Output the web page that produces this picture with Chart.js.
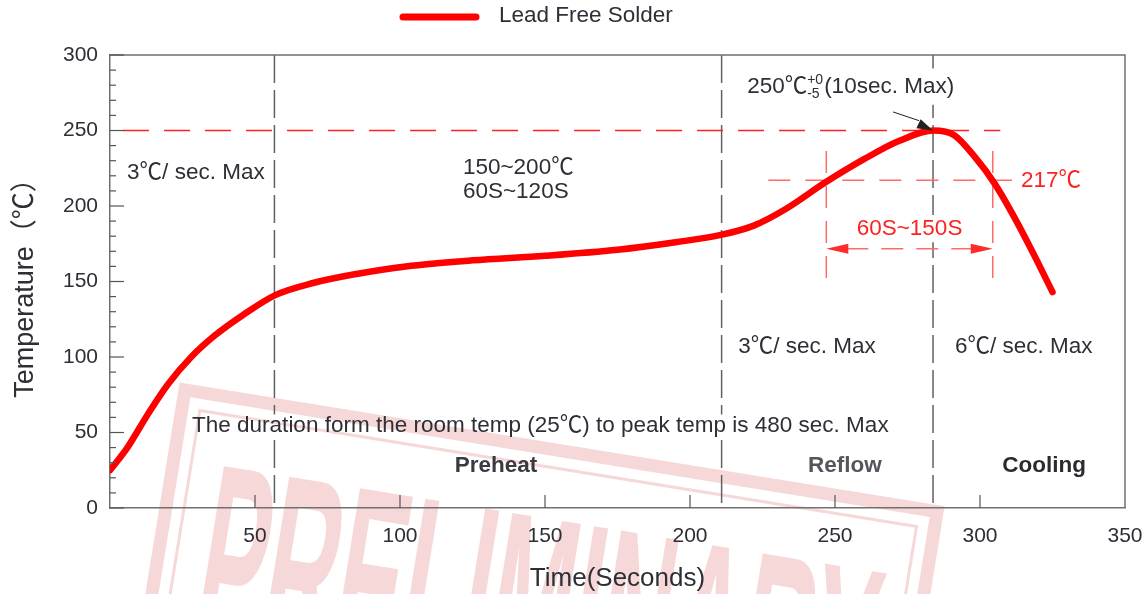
<!DOCTYPE html>
<html>
<head>
<meta charset="utf-8">
<script src="https://cdn.jsdelivr.net/npm/chart.js@4.4.1/dist/chart.umd.min.js"></script>
<style>
  html, body { margin: 0; background: #fff; }
  #wrap { width: 1144px; height: 594px; }
</style>
</head>
<body>
<div id="wrap"><canvas id="c"></canvas></div>
<script>
// ======= Dados =======
const times = [0, 6, 13, 20, 28, 36, 46, 57, 70, 85, 102, 125, 150, 175, 195, 211, 222, 233, 247, 260, 272, 284, 291, 298, 305, 312, 318, 325];
const temps = [25, 40, 62, 82, 100, 114, 128, 141, 149, 155, 160, 164, 167, 171, 176, 181, 187, 198, 216, 231, 243, 250, 247, 233, 215, 192, 170, 143];
const xTicks = [0, 50, 100, 150, 200, 250, 300, 350];
const yTicks = [0, 50, 100, 150, 200, 250, 300];
const phaseTimes = [56.7, 210.9, 283.8];   // limites preheat / reflow / cooling
const peakTemp = 250;
const liquidus = 217;
const talTimes = [247, 304.4];              // 60S~150S acima de 217

const FONT = '"Liberation Sans", Arial, "Noto Sans CJK SC", sans-serif';
const TXT = '#2e2e36';
const FS = 22.5;

// ======= Helpers =======
function label(ctx, s, x, y, size, color, opts = {}) {
  ctx.save();
  ctx.font = (opts.bold ? 'bold ' : '') + size + 'px ' + FONT;
  ctx.fillStyle = color;
  ctx.textAlign = opts.align || 'left';
  ctx.textBaseline = 'middle';
  ctx.fillText(s, x, y);
  const w = ctx.measureText(s).width;
  ctx.restore();
  return w;
}

function dashLine(ctx, x1, y1, x2, y2, color, width, dash) {
  ctx.save();
  ctx.strokeStyle = color;
  ctx.lineWidth = width;
  ctx.setLineDash(dash);
  ctx.beginPath();
  ctx.moveTo(x1, y1);
  ctx.lineTo(x2, y2);
  ctx.stroke();
  ctx.restore();
}

function arrowHead(ctx, tipX, tipY, fromX, fromY, len, half, color) {
  const a = Math.atan2(tipY - fromY, tipX - fromX);
  ctx.save();
  ctx.fillStyle = color;
  ctx.translate(tipX, tipY);
  ctx.rotate(a);
  ctx.beginPath();
  ctx.moveTo(0, 0);
  ctx.lineTo(-len, -half);
  ctx.lineTo(-len, half);
  ctx.closePath();
  ctx.fill();
  ctx.restore();
}

// carimbo "PRELIMINARY" ao fundo
function stamp(ctx) {
  ctx.save();
  ctx.translate(180, 383);
  ctx.rotate(9.2 * Math.PI / 180);
  ctx.fillStyle = 'rgba(205,40,40,0.18)';
  ctx.strokeStyle = 'rgba(205,40,40,0.18)';
  ctx.lineWidth = 13;
  ctx.strokeRect(6, 6, 762, 330);
  ctx.lineWidth = 3;
  ctx.strokeRect(24, 24, 726, 296);
  ctx.font = 'bold 260px ' + FONT;
  const w = ctx.measureText('PRELIMINARY').width;
  ctx.translate(50, 254);
  ctx.scale(680 / w, 1);
  ctx.fillText('PRELIMINARY', 0, 0);
  ctx.restore();
}

const annotations = {
  id: 'annotations',
  beforeDraw(chart) {
    const ctx = chart.ctx;
    ctx.save();
    ctx.fillStyle = '#fff';
    ctx.fillRect(0, 0, chart.width, chart.height);
    ctx.restore();
    stamp(ctx);
  },
  beforeDatasetsDraw(chart) {
    const ctx = chart.ctx;
    const { x, y } = chart.scales;
    const a = chart.chartArea;
    const px = t => x.getPixelForValue(t);
    const py = v => y.getPixelForValue(v);

    // areas dos textos que cortam as linhas tracejadas
    const boxes = [
      [px(27), py(62), px(270) - px(27), py(47) - py(62)],
      [px(218), py(291), px(292) - px(218), py(267) - py(291)],
      [px(255), py(194), px(297) - px(255), py(176) - py(194)]
    ];
    ctx.save();
    ctx.beginPath();
    ctx.rect(0, 0, chart.width, chart.height);
    boxes.forEach(b => ctx.rect(b[0], b[1], b[2], b[3]));
    ctx.clip('evenodd');

    phaseTimes.forEach(t => dashLine(ctx, px(t), a.top, px(t), a.bottom, '#606060', 1.5, [28, 7]));

    dashLine(ctx, px(4.5), py(peakTemp), px(307), py(peakTemp), '#ff2020', 1.5, [26, 15]);
    dashLine(ctx, px(227), py(liquidus), px(311), py(liquidus), '#ff6b6b', 1.5, [22, 15]);
    talTimes.forEach(t => dashLine(ctx, px(t), py(236.5), px(t), py(144.4), '#ff6b6b', 1.5, [22, 13]));
    const ay = py(171.7);
    dashLine(ctx, px(talTimes[0]) + 20, ay, px(talTimes[1]) - 20, ay, '#ff6b6b', 1.5, [22, 13]);
    ctx.restore();

    arrowHead(ctx, px(talTimes[0]), ay, px(talTimes[1]), ay, 22, 5, '#ff2a2a');
    arrowHead(ctx, px(talTimes[1]), ay, px(talTimes[0]), ay, 22, 5, '#ff2a2a');
  },
  afterDraw(chart) {
    const ctx = chart.ctx;
    const { x, y } = chart.scales;
    const a = chart.chartArea;
    const px = t => x.getPixelForValue(t);
    const py = v => y.getPixelForValue(v);

    // moldura superior / direita
    ctx.save();
    ctx.strokeStyle = '#707070';
    ctx.lineWidth = 1.5;
    ctx.beginPath();
    ctx.moveTo(a.left, a.top);
    ctx.lineTo(a.right, a.top);
    ctx.lineTo(a.right, a.bottom);
    ctx.stroke();

    // ticks para dentro
    ctx.strokeStyle = '#555';
    ctx.lineWidth = 1.2;
    y.ticks.forEach(tk => {
      const len = tk.value % 50 === 0 ? 14 : 6;
      const yy = py(tk.value);
      ctx.beginPath();
      ctx.moveTo(a.left, yy);
      ctx.lineTo(a.left + len, yy);
      ctx.stroke();
    });
    x.ticks.forEach(tk => {
      if (tk.value === 0 || tk.value === 350) return;
      const xx = px(tk.value);
      ctx.beginPath();
      ctx.moveTo(xx, a.bottom);
      ctx.lineTo(xx, a.bottom - 13);
      ctx.stroke();
    });
    ctx.restore();

    // legenda
    const ds = chart.data.datasets[0];
    ctx.save();
    ctx.strokeStyle = ds.borderColor;
    ctx.lineWidth = 7;
    ctx.lineCap = 'round';
    ctx.beginPath();
    ctx.moveTo(403, 17);
    ctx.lineTo(476, 17);
    ctx.stroke();
    ctx.restore();
    label(ctx, ds.label, 499, 16, FS, TXT);

    // textos
    label(ctx, '3℃/ sec. Max', px(5.9), py(222), FS, TXT);
    label(ctx, '150~200℃', px(121.7), py(225.3), FS, TXT);
    label(ctx, '60S~120S', px(121.7), py(209.2), FS, TXT);

    let lx = px(219.7);
    const ly = py(279);
    lx += label(ctx, '250℃', lx, ly, FS, TXT);
    const w1 = label(ctx, '+0', lx, ly - 7, 14, TXT);
    const w2 = label(ctx, '-5', lx, ly + 7, 14, TXT);
    label(ctx, '(10sec. Max)', lx + Math.max(w1, w2) + 1, ly, FS, TXT);

    // seta para o pico
    ctx.save();
    ctx.strokeStyle = '#222';
    ctx.lineWidth = 1;
    ctx.beginPath();
    ctx.moveTo(px(270), py(262.3));
    ctx.lineTo(px(279), py(256.5));
    ctx.stroke();
    ctx.restore();
    arrowHead(ctx, px(283.8), py(peakTemp), px(270), py(262.3), 16, 5, '#222');

    label(ctx, '217℃', px(314.1), py(liquidus), FS, '#ff2020');
    label(ctx, '60S~150S', (px(talTimes[0]) + px(talTimes[1])) / 2, py(185), FS, '#ff2020', { align: 'center' });

    label(ctx, '3℃/ sec. Max', px(216.6), py(107), FS, TXT);
    label(ctx, '6℃/ sec. Max', px(291.4), py(107), FS, TXT);

    label(ctx, 'The duration form the room temp (25℃) to peak temp is 480 sec. Max', px(28.3), py(54.2), FS, TXT);

    label(ctx, 'Preheat', px(133.1), py(27.7), FS, '#3a3a40', { bold: true, align: 'center' });
    label(ctx, 'Reflow', px(253.4), py(27.7), FS, '#55555c', { bold: true, align: 'center' });
    label(ctx, 'Cooling', px(322.1), py(27.7), FS, '#2a2a30', { bold: true, align: 'center' });
  }
};

// ======= Gráfico =======
new Chart(document.getElementById('c'), {
  type: 'line',
  data: {
    datasets: [{
      label: 'Lead Free Solder',
      data: times.map((t, i) => ({ x: t, y: temps[i] })),
      borderColor: '#ff0000',
      borderWidth: 6.5,
      borderCapStyle: 'round',
      pointRadius: 0,
      cubicInterpolationMode: 'monotone',
      fill: false
    }]
  },
  options: {
    responsive: true,
    maintainAspectRatio: false,
    animation: false,
    layout: { padding: { top: 55, right: 0, left: 0, bottom: 0 } },
    plugins: { legend: { display: false }, tooltip: { enabled: false } },
    scales: {
      x: {
        type: 'linear',
        min: xTicks[0],
        max: xTicks[xTicks.length - 1],
        afterFit: s => { s.height = 86; s.paddingRight = 19; s.paddingLeft = 0; },
        afterBuildTicks: s => { s.ticks = xTicks.map(v => ({ value: v })); },
        grid: { display: false, drawTicks: false },
        border: { display: true, color: '#707070', width: 1.5 },
        ticks: {
          padding: 16,
          color: TXT,
          font: { family: FONT, size: 21 },
          maxRotation: 0,
          autoSkip: false,
          callback: v => v === 0 ? '' : v
        },
        title: {
          display: true,
          text: 'Time(Seconds)',
          color: TXT,
          font: { family: FONT, size: 26 },
          padding: { top: 0, bottom: 0 }
        }
      },
      y: {
        min: yTicks[0],
        max: yTicks[yTicks.length - 1],
        afterFit: s => { s.width = 110; },
        grid: { display: false, drawTicks: false },
        border: { display: true, color: '#707070', width: 1.5 },
        ticks: {
          stepSize: 10,
          padding: 12,
          color: TXT,
          autoSkip: false,
          font: { family: FONT, size: 21 },
          callback: v => yTicks.includes(v) ? v : ''
        },
        title: {
          display: true,
          text: 'Temperature（℃）',
          color: TXT,
          font: { family: FONT, size: 27 },
          padding: { top: 9, bottom: 0 }
        }
      }
    }
  },
  plugins: [annotations]
});
</script>
</body>
</html>
